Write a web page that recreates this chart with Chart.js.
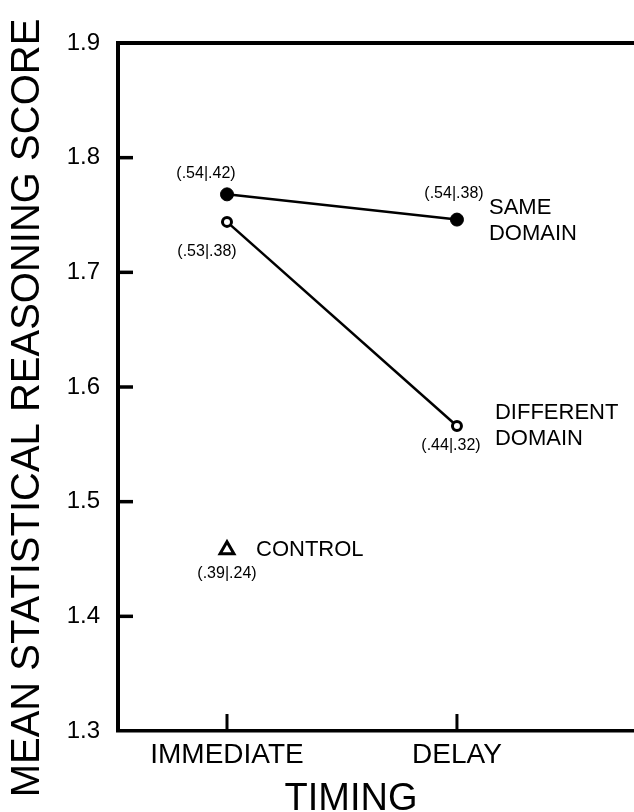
<!DOCTYPE html>
<html>
<head>
<meta charset="utf-8">
<script src="https://cdn.jsdelivr.net/npm/chart.js@4/dist/chart.umd.min.js"></script>
<style>
html,body{margin:0;padding:0;background:#fff;overflow:hidden;}
#wrap{width:634px;height:812px;overflow:hidden;}
canvas{display:block;}
</style>
</head>
<body>
<div id="wrap"><canvas id="c" width="760" height="812"></canvas></div>
<script>
// values
const timingLabels=['IMMEDIATE','DELAY'];
const yTickValues=[1.3,1.4,1.5,1.6,1.7,1.8,1.9];
const sameDomain=[1.768,1.746];
const differentDomain=[1.744,1.566];
const controlScore=[1.458];
const sameNotes=['(.54|.42)','(.54|.38)'];
const diffNotes=['(.53|.38)','(.44|.32)'];
const controlNotes=['(.39|.24)'];

const FONT='"Liberation Sans", Arial, Helvetica, sans-serif';

// where the little labels sit next to each point (pixel offsets)
const notePlaces=[
  {ds:0,i:0,text:sameNotes[0],dx:-21,dy:-21,size:16,align:'center'},
  {ds:0,i:1,text:sameNotes[1],dx:-3,dy:-26,size:16,align:'center'},
  {ds:0,i:1,text:'SAME',dx:32,dy:-12,size:22,align:'left'},
  {ds:0,i:1,text:'DOMAIN',dx:32,dy:14,size:22,align:'left'},
  {ds:1,i:0,text:diffNotes[0],dx:-20,dy:30,size:16,align:'center'},
  {ds:1,i:1,text:diffNotes[1],dx:-6,dy:20,size:16,align:'center'},
  {ds:1,i:1,text:'DIFFERENT',dx:38,dy:-13,size:22,align:'left'},
  {ds:1,i:1,text:'DOMAIN',dx:38,dy:13,size:22,align:'left'},
  {ds:2,i:0,text:'CONTROL',dx:29,dy:0,size:22,align:'left'},
  {ds:2,i:0,text:controlNotes[0],dx:0,dy:24,size:16,align:'center'}
];

function line(ctx,x1,y1,x2,y2){ctx.beginPath();ctx.moveTo(x1,y1);ctx.lineTo(x2,y2);ctx.stroke();}

const framePlugin={
  id:'frame',
  afterDraw(chart){
    const ctx=chart.ctx,a=chart.chartArea,xs=chart.scales.x,ys=chart.scales.y;
    ctx.save();
    ctx.strokeStyle='#000';
    ctx.lineWidth=4;
    line(ctx,a.left-2,a.top,a.right,a.top);
    line(ctx,a.right,a.top,a.right,a.bottom);
    // tick marks point into the plot
    ctx.lineWidth=3.5;
    yTickValues.forEach(function(v){
      if(v<=1.3||v>=1.9)return;
      const y=ys.getPixelForValue(v);
      line(ctx,a.left,y,a.left+15,y);
    });
    ctx.lineWidth=3;
    timingLabels.forEach(function(l,i){
      const x=xs.getPixelForValue(i);
      line(ctx,x,a.bottom,x,a.bottom-17);
    });
    // point labels
    ctx.fillStyle='#000';
    ctx.textBaseline='middle';
    notePlaces.forEach(function(n){
      const p=chart.getDatasetMeta(n.ds).data[n.i];
      ctx.font=n.size+'px '+FONT;
      ctx.textAlign=n.align;
      ctx.fillText(n.text,p.x+n.dx,p.y+n.dy);
    });
    // axis titles
    ctx.font='38px '+FONT;
    ctx.textAlign='center';
    ctx.textBaseline='alphabetic';
    const mid=(xs.getPixelForValue(0)+xs.getPixelForValue(1))/2+9;
    ctx.fillText('TIMING',mid,810);
    ctx.translate(28,408);
    ctx.rotate(-Math.PI/2);
    ctx.font='40px '+FONT;
    ctx.textBaseline='middle';
    ctx.fillText('MEAN STATISTICAL REASONING SCORE',0,0);
    ctx.restore();
  }
};

new Chart(document.getElementById('c'),{
  type:'line',
  data:{
    datasets:[
      {label:'Same domain',data:sameDomain.map(function(v,i){return {x:i,y:v};}),
        borderColor:'#000',borderWidth:2.5,pointRadius:6.5,pointBorderWidth:1,
        pointBackgroundColor:'#000',pointBorderColor:'#000',tension:0},
      {label:'Different domain',data:differentDomain.map(function(v,i){return {x:i,y:v};}),
        borderColor:'#000',borderWidth:2.5,pointRadius:4.5,pointBorderWidth:3,
        pointBackgroundColor:'#fff',pointBorderColor:'#000',tension:0},
      {label:'Control',data:controlScore.map(function(v,i){return {x:i,y:v};}),
        showLine:false,pointStyle:'triangle',pointRadius:8,pointBorderWidth:3,
        pointBackgroundColor:'#fff',pointBorderColor:'#000'}
    ]
  },
  options:{
    responsive:false,animation:false,
    layout:{padding:{top:43,left:0,right:0,bottom:0}},
    plugins:{legend:{display:false},tooltip:{enabled:false}},
    scales:{
      x:{type:'linear',min:-0.474,max:2.27,
        afterFit:function(s){s.height=81;},
        afterBuildTicks:function(s){s.ticks=timingLabels.map(function(l,i){return {value:i};});},
        grid:{display:false,drawTicks:false},
        border:{display:true,color:'#000',width:3.5},
        ticks:{autoSkip:false,maxRotation:0,padding:7,color:'#000',font:{family:FONT,size:28},
          callback:function(v){return timingLabels[v];}}
      },
      y:{type:'linear',min:1.3,max:1.9,
        afterFit:function(s){s.width=118;},
        afterBuildTicks:function(s){s.ticks=yTickValues.map(function(v){return {value:v};});},
        grid:{display:false,drawTicks:false},
        border:{display:true,color:'#000',width:4},
        ticks:{padding:18,color:'#000',font:{family:FONT,size:24},
          callback:function(v){return v.toFixed(1);}}
      }
    }
  },
  plugins:[framePlugin]
});
</script>
</body>
</html>
